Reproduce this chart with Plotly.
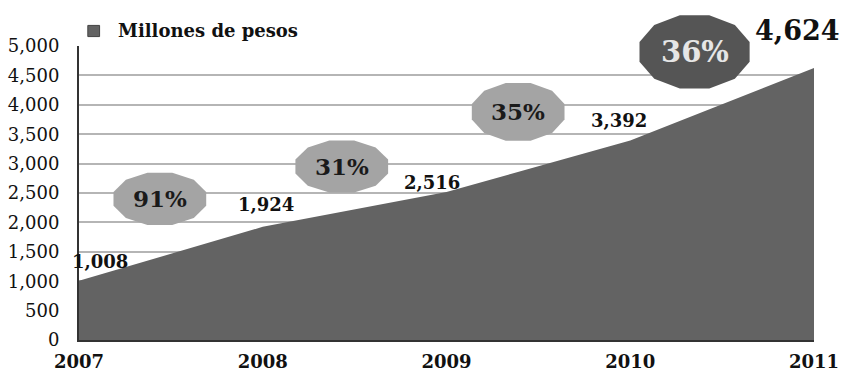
import math
import plotly.graph_objects as go

# Annual amounts (millions of pesos)
years = [2007, 2008, 2009, 2010, 2011]
amounts = [1008, 1924, 2516, 3392, 4624]
y_ticks = [0, 500, 1000, 1500, 2000, 2500, 3000, 3500, 4000, 4500, 5000]
series_name = "Millones de pesos"

FONT = "DejaVu Serif"
AREA = "#636363"
X_RANGE = [2007, 2011]
Y_RANGE = [0, 5000]


def to_paper(x, y):
    return ((x - X_RANGE[0]) / (X_RANGE[1] - X_RANGE[0]),
            (y - Y_RANGE[0]) / (Y_RANGE[1] - Y_RANGE[0]))


fig = go.Figure()
fig.add_trace(go.Scatter(
    x=years, y=amounts, mode="lines", fill="tozeroy",
    line=dict(width=0, color=AREA), fillcolor=AREA, showlegend=False,
    hoverinfo="x+y",
))

# legend marker
fig.add_shape(type="rect", xref="paper", yref="paper",
              x0=0.012, x1=0.028, y0=1.032, y1=1.070,
              fillcolor=AREA, line=dict(color="#444", width=1))
fig.add_annotation(text="<b>" + series_name + "</b>", xref="paper", yref="paper",
                   x=0.051, y=1.052, xanchor="left", yanchor="middle",
                   showarrow=False, font=dict(family=FONT, size=18, color="#111"))

# value labels: (xshift, yshift, size) per point
label_style = [(21, 19, 18), (3, 22, 18), (-15, 10, 18), (-11, 20, 18), (-17, 38, 27)]
for yr, v, (dx, dy, sz) in zip(years, amounts, label_style):
    px, py = to_paper(yr, v)
    fig.add_annotation(x=px, y=py, xref="paper", yref="paper",
                       xanchor="center", yanchor="middle",
                       text="<b>{:,}</b>".format(v), showarrow=False,
                       xshift=dx, yshift=dy, font=dict(family=FONT, size=sz, color="#111"))

# growth bubbles
growth = [round((amounts[i] / amounts[i - 1] - 1) * 100) for i in range(1, len(amounts))]
bubble_pos = [(2007.44, 2400), (2008.43, 2950), (2009.39, 3880), (2010.35, 4900)]
bubble_style = [
    (48, 27, "#a4a4a4", "#1a1a1a", 23),
    (48, 27, "#a4a4a4", "#1a1a1a", 23),
    (48, 30, "#a4a4a4", "#1a1a1a", 23),
    (57, 38, "#555555", "#e6e6e6", 29),
]


def polygon_path(rx, ry, n=12):
    pts = []
    for k in range(n):
        a = math.pi / n + 2 * math.pi * k / n
        pts.append((rx * math.cos(a), ry * math.sin(a)))
    return "M " + " L ".join("{:.2f},{:.2f}".format(px, py) for px, py in pts) + " Z"


for g, (bx, by), (rx, ry, fc, tc, fs) in zip(growth, bubble_pos, bubble_style):
    px, py = to_paper(bx, by)
    fig.add_shape(type="path", xref="paper", yref="paper", xsizemode="pixel", ysizemode="pixel",
                  xanchor=px, yanchor=py, path=polygon_path(rx, ry),
                  fillcolor=fc, line=dict(width=0), layer="above")
    fig.add_annotation(x=px, y=py, xref="paper", yref="paper",
                       xanchor="center", yanchor="middle",
                       text="<b>{}%</b>".format(g), showarrow=False,
                       font=dict(family=FONT, size=fs, color=tc))

fig.update_layout(
    width=841, height=375,
    margin=dict(l=79, r=27, t=46, b=35, autoexpand=False),
    paper_bgcolor="white", plot_bgcolor="white",
    font=dict(family=FONT, color="#111"),
    xaxis=dict(range=X_RANGE, tickvals=years,
               ticktext=["<b>{}</b>".format(y) for y in years],
               tickfont=dict(family=FONT, size=18, color="#111"),
               showgrid=False, zeroline=False, showline=True, linecolor="#333",
               linewidth=2, ticks="", ticklabelstandoff=4, automargin=False),
    yaxis=dict(range=Y_RANGE, tickvals=y_ticks,
               ticktext=["{:,}".format(t) for t in y_ticks],
               tickfont=dict(family=FONT, size=18, color="#111"),
               showgrid=True, gridcolor="#b5b5b5", gridwidth=1.5,
               zeroline=False, showline=True, linecolor="#333", linewidth=2,
               ticks="", ticklabelstandoff=14, automargin=False),
)

fig.write_html("out.html")
